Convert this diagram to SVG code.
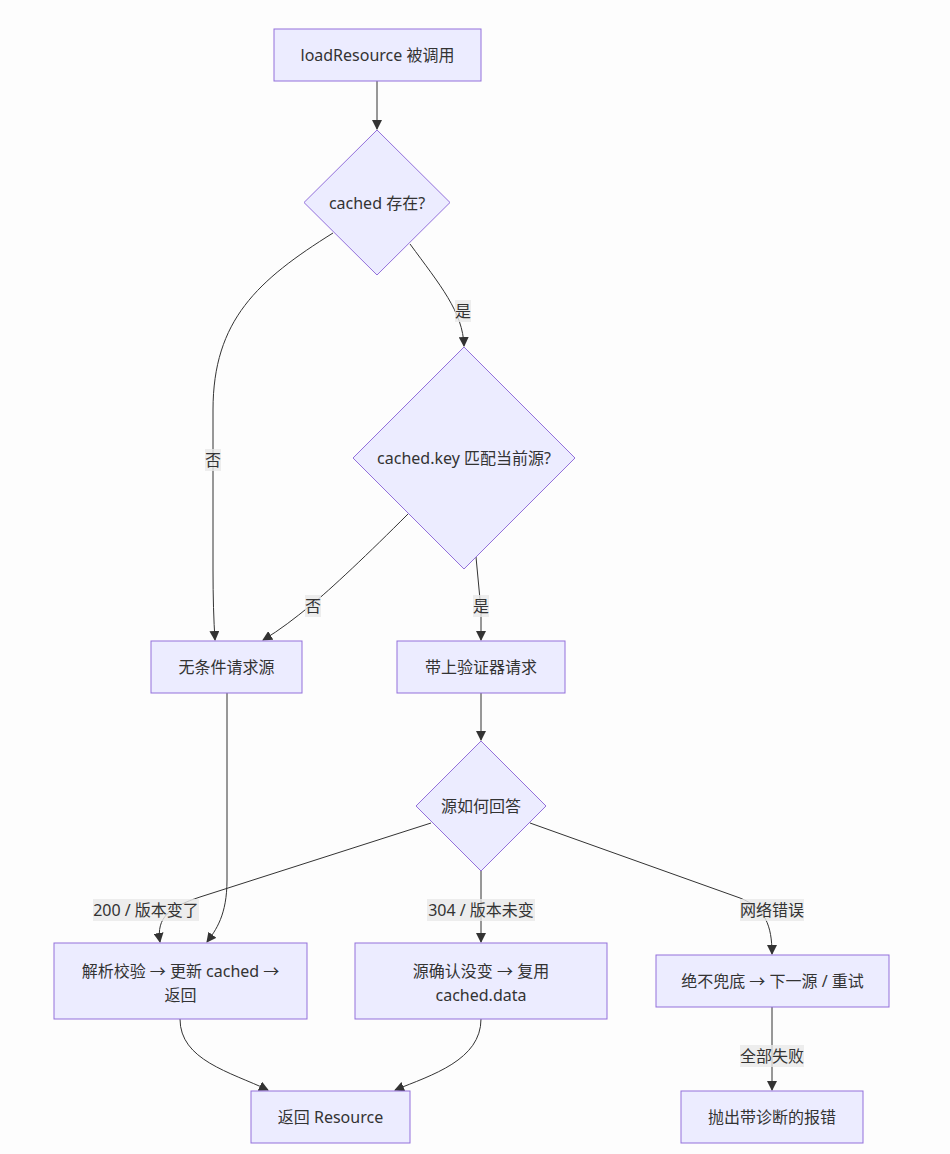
<svg xmlns="http://www.w3.org/2000/svg" width="950" height="1154" viewBox="0 0 950 1154">
<style>
.bg{fill:#fdfdfd}
.node rect,.node polygon{fill:#ECECFF;stroke:#9370DB;stroke-width:1}
.node text,.lbl text{font-family:"Noto Sans","Noto Sans CJK SC",sans-serif;font-size:16px;fill:#333;text-anchor:middle;dominant-baseline:central}
.edge{fill:none;stroke:#333;stroke-width:1}
.lbl rect{fill:rgba(232,232,232,0.8)}
</style>
<defs>
<marker id="arr" viewBox="0 0 10 10" refX="9" refY="5" markerWidth="10" markerHeight="10" markerUnits="userSpaceOnUse" orient="auto">
<path d="M0,0 L10,5 L0,10 z" fill="#333"/>
</marker>
</defs>
<rect class="bg" x="0" y="0" width="950" height="1154"/>
<g id="connectors">
<path class="edge" marker-end="url(#arr)" d="M377,81 L377,129"/>
<path class="edge" marker-end="url(#arr)" d="M333,233 C258,280 213,320 213,410 L213,570 Q213,610 215,640"/>
<path class="edge" marker-end="url(#arr)" d="M410,244 C440,285 463,312 464,346"/>
<path class="edge" marker-end="url(#arr)" d="M408,514 C370,552 330,590 310,606 C295,618 280,630 263,640"/>
<path class="edge" marker-end="url(#arr)" d="M476,557 L481,610 L481,640"/>
<path class="edge" marker-end="url(#arr)" d="M481,693 L481,740"/>
<path class="edge" marker-end="url(#arr)" d="M431,823 L200,897 C170,907 156,917 160,942"/>
<path class="edge" marker-end="url(#arr)" d="M227,693 L227,880 C227,915 216,930 207,942"/>
<path class="edge" marker-end="url(#arr)" d="M481,871 L481,942"/>
<path class="edge" marker-end="url(#arr)" d="M530,823 L740,898 C765,908 772,925 772,954"/>
<path class="edge" marker-end="url(#arr)" d="M180,1019 C180,1060 230,1072 268,1090"/>
<path class="edge" marker-end="url(#arr)" d="M481,1019 C481,1060 432,1075 395,1090"/>
<path class="edge" marker-end="url(#arr)" d="M772,1007 L772,1090"/>
<g class="lbl"><rect x="205" y="449" width="16" height="22"/><text x="213" y="460">否</text></g>
<g class="lbl"><rect x="455" y="300" width="16" height="22"/><text x="463" y="311">是</text></g>
<g class="lbl"><rect x="305" y="595" width="16" height="22"/><text x="313" y="606">否</text></g>
<g class="lbl"><rect x="473" y="595" width="16" height="22"/><text x="481" y="606">是</text></g>
<g class="lbl"><rect x="93" y="899" width="106" height="22"/><text x="146" y="910">200 / 版本变了</text></g>
<g class="lbl"><rect x="427" y="899" width="108" height="22"/><text x="481" y="910">304 / 版本未变</text></g>
<g class="lbl"><rect x="740" y="899" width="64" height="22"/><text x="772" y="910">网络错误</text></g>
<g class="lbl"><rect x="740" y="1045" width="64" height="22"/><text x="772" y="1056">全部失败</text></g>
</g>
<g id="nA" class="node"><rect x="274" y="29" width="207" height="52"/><text x="377.5" y="55">loadResource 被调用</text></g>
<g id="nB" class="node"><polygon points="377,130 450,202.5 377,275 304,202.5"/><text x="377" y="202.5">cached 存在?</text></g>
<g id="nC" class="node"><polygon points="464,347 575,458 464,569 353,458"/><text x="464" y="458">cached.key 匹配当前源?</text></g>
<g id="nD" class="node"><rect x="151" y="641" width="151" height="52"/><text x="226.5" y="667">无条件请求源</text></g>
<g id="nE" class="node"><rect x="397" y="641" width="168" height="52"/><text x="481" y="667">带上验证器请求</text></g>
<g id="nF" class="node"><polygon points="481,741 546,806 481,871 416,806"/><text x="481" y="806">源如何回答</text></g>
<g id="nG" class="node"><rect x="54" y="943" width="253" height="76"/><text x="180.5" y="971">解析校验 → 更新 cached →</text><text x="180.5" y="995">返回</text></g>
<g id="nH" class="node"><rect x="355" y="943" width="252" height="76"/><text x="481" y="971">源确认没变 → 复用</text><text x="481" y="995">cached.data</text></g>
<g id="nI" class="node"><rect x="656" y="955" width="233" height="52"/><text x="772.5" y="981">绝不兜底 → 下一源 / 重试</text></g>
<g id="nJ" class="node"><rect x="251" y="1091" width="159" height="52"/><text x="330.5" y="1117">返回 Resource</text></g>
<g id="nK" class="node"><rect x="681" y="1091" width="182" height="52"/><text x="772" y="1117">抛出带诊断的报错</text></g>
</svg>
